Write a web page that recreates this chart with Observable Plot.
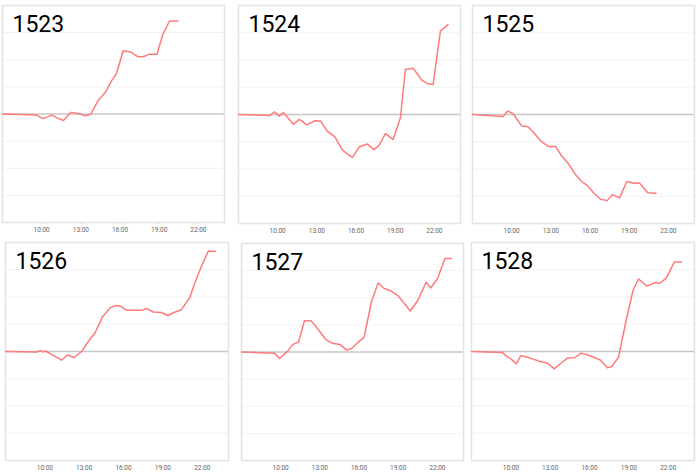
<!DOCTYPE html>
<html><head><meta charset="utf-8">
<script src="https://cdn.jsdelivr.net/npm/d3@7"></script>
<script src="https://cdn.jsdelivr.net/npm/@observablehq/plot@0.6"></script>
<style>
html,body{margin:0;padding:0;background:#fff;}
#root{position:relative;width:700px;height:475px;overflow:hidden;background:#fff;}
.panel{position:absolute;}
.panel svg{display:block;}
</style></head><body><div id="root"></div>
<script>
// ---- data (hours of day, value relative to baseline) ----
const seriesNames = ["1523","1524","1525","1526","1527","1528"];

const hours1523 = [7.0,9.6,10.1,10.79,11.22,11.67,12.23,12.82,13.32,13.75,14.34,14.92,15.35,15.73,16.24,16.8,17.38,17.76,18.22,18.83,19.28,19.79,20.43];
const values1523 = [0,-0.04,-0.17,-0.04,-0.15,-0.24,0.06,0.02,-0.07,-0.01,0.51,0.83,1.22,1.49,2.33,2.29,2.11,2.11,2.2,2.2,2.94,3.43,3.43];

const hours1524 = [7.0,9.41,9.75,10.1,10.43,11.2,11.66,12.22,12.85,13.29,13.8,14.38,14.94,15.4,15.73,16.24,16.85,17.36,17.75,18.25,18.84,19.4,19.78,20.37,21.06,21.44,21.9,22.46,23.04];
const values1524 = [0,-0.04,0.1,-0.06,0.07,-0.36,-0.18,-0.38,-0.23,-0.24,-0.61,-0.82,-1.29,-1.47,-1.57,-1.19,-1.08,-1.29,-1.14,-0.7,-0.92,-0.12,1.65,1.7,1.25,1.14,1.1,3.06,3.3];

const hours1525 = [7.0,9.36,9.69,10.13,10.76,11.22,11.65,12.24,12.8,13.36,13.81,14.32,14.88,15.34,15.8,16.3,16.81,17.32,17.7,18.26,18.82,19.36,19.79,20.42,21.06];
const values1525 = [0,-0.07,0.13,0.02,-0.42,-0.44,-0.64,-0.98,-1.17,-1.17,-1.51,-1.79,-2.2,-2.45,-2.61,-2.89,-3.11,-3.16,-2.94,-3.06,-2.46,-2.52,-2.51,-2.87,-2.89];

const hours1526 = [7.0,9.39,9.64,9.82,10.08,10.71,11.27,11.72,12.23,12.82,13.3,13.83,14.39,14.97,15.4,15.73,16.24,16.8,17.36,17.74,18.27,18.88,19.39,19.84,20.4,21.06,21.42,21.92,22.46,23.01];
const values1526 = [0,-0.02,0.04,-0.01,0.01,-0.16,-0.32,-0.13,-0.22,0.01,0.36,0.69,1.27,1.6,1.69,1.67,1.51,1.51,1.51,1.58,1.45,1.43,1.32,1.43,1.53,1.99,2.5,3.11,3.68,3.68];

const hours1527 = [7.0,9.54,9.92,10.56,10.94,11.37,11.82,12.33,12.91,13.47,13.97,14.53,15.06,15.44,15.95,16.38,16.96,17.47,17.9,18.41,18.96,19.47,19.92,20.51,21.14,21.49,22.0,22.58,23.09];
const values1527 = [0,-0.05,-0.24,0.04,0.28,0.37,1.15,1.15,0.81,0.45,0.32,0.28,0.07,0.13,0.37,0.53,1.87,2.55,2.35,2.26,2.08,1.79,1.51,1.91,2.57,2.36,2.7,3.45,3.45];

const hours1528 = [7.0,9.36,9.69,10.0,10.41,10.76,11.22,11.73,12.24,12.8,13.31,13.77,14.32,14.86,15.34,15.8,16.31,16.81,17.37,17.7,18.21,18.77,19.31,19.74,20.38,21.01,21.34,21.85,22.46,22.99];
const values1528 = [0,-0.04,-0.18,-0.27,-0.45,-0.15,-0.2,-0.29,-0.37,-0.43,-0.64,-0.45,-0.24,-0.23,-0.06,-0.12,-0.21,-0.31,-0.6,-0.55,-0.21,1.1,2.24,2.66,2.4,2.53,2.5,2.69,3.28,3.28];

const xTicks = [10,13,16,19,22];
const xDomain = [7,24];
const yDomain = [-4,4];
const yGrid = [-3,-2,-1,1,2,3];

const seriesHours = [hours1523,hours1524,hours1525,hours1526,hours1527,hours1528];
const seriesValues = [values1523,values1524,values1525,values1526,values1527,values1528];

// ---- layout (frame boxes in page pixels) ----
const layout = [
  {left:2,   top:5,   w:222, h:217},
  {left:238, top:5,   w:222, h:218},
  {left:472, top:5,   w:222, h:218},
  {left:5,   top:242, w:223, h:218},
  {left:241, top:243, w:222, h:217},
  {left:471, top:242, w:223, h:218}
];

const M = 2, MB = 16;
const root = document.getElementById("root");

seriesNames.forEach((name, i) => {
  const L = layout[i];
  const data = seriesHours[i].map((h, j) => ({hour: h, value: seriesValues[i][j]}));
  const chart = Plot.plot({
    width: L.w + 2*M,
    height: L.h + M + MB,
    marginLeft: M, marginRight: M, marginTop: M, marginBottom: MB,
    x: {domain: xDomain},
    y: {domain: yDomain, axis: null},
    style: {fontFamily: "Roboto, 'Noto Sans', sans-serif", background: "transparent", overflow: "visible"},
    marks: [
      Plot.ruleY(yGrid, {stroke: "#f2f2f2", strokeWidth: 1}),
      Plot.ruleY([0], {stroke: "#c6c6c6", strokeWidth: 1.5}),
      Plot.frame({stroke: "#e3e3e3", strokeWidth: 1.5}),
      Plot.axisX({ticks: xTicks, tickFormat: d => `${d}:00`, tickSize: 2, tickPadding: 2.5,
        stroke: "#dddddd", fill: "#666", fontSize: 6.5, label: null}),
      Plot.line(data, {x: "hour", y: "value", stroke: "#ff7b7b", strokeWidth: 1.5}),
      Plot.text([name], {frameAnchor: "top-left", dx: 10, dy: 10, lineAnchor: "top",
        fontSize: 23, fill: "#000"})
    ]
  });
  const div = document.createElement("div");
  div.className = "panel";
  div.style.left = (L.left - M) + "px";
  div.style.top = (L.top - M) + "px";
  div.appendChild(chart);
  root.appendChild(div);
});
</script>
</body></html>
